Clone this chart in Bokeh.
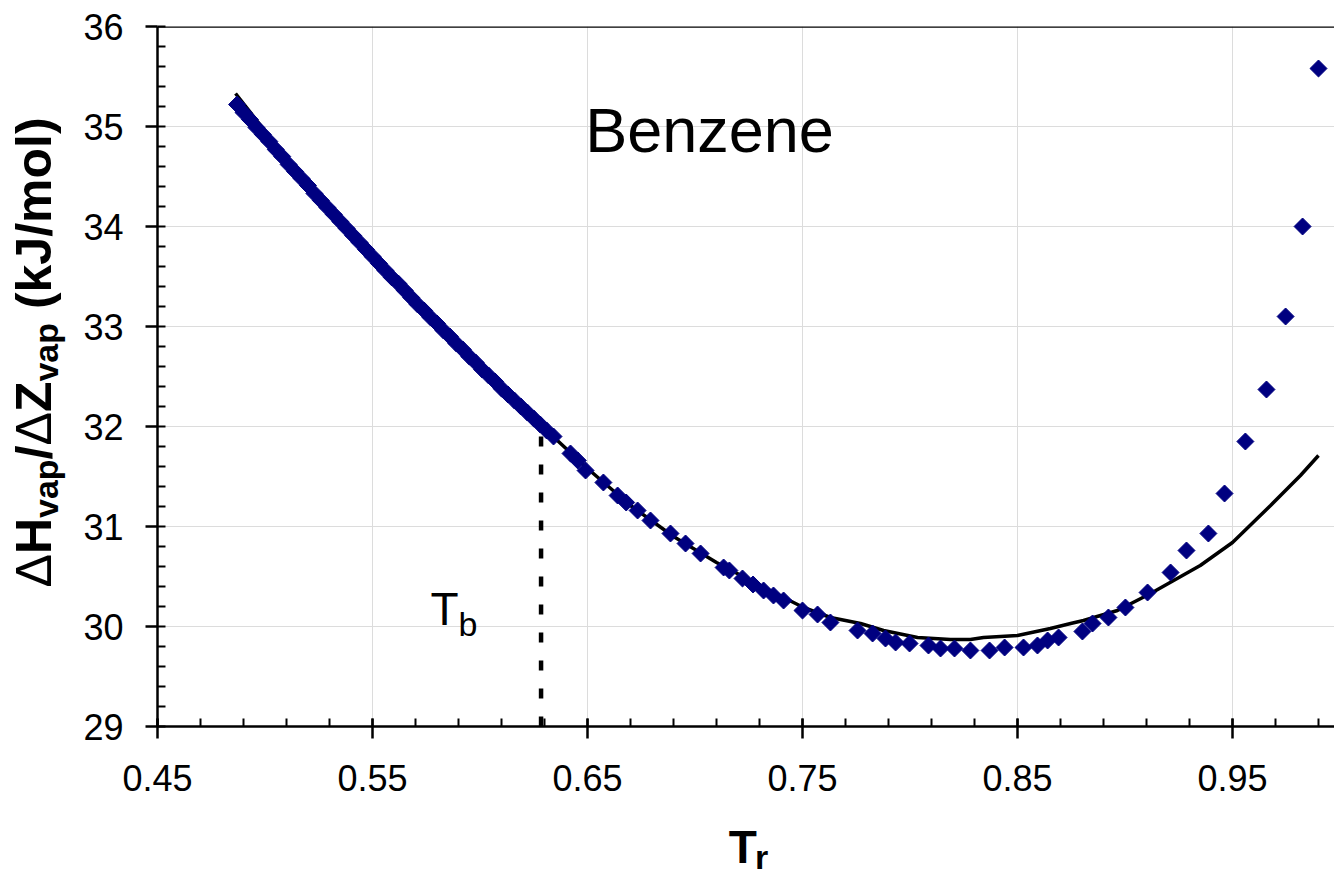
import numpy as np
from bokeh.plotting import figure
from bokeh.layouts import row, column
from bokeh.models import Label, Span, FixedTicker, PrintfTickFormatter, Range1d
from bokeh.embed import file_html
from bokeh.resources import INLINE

# ---------------- data ----------------
tr_data = [0.487, 0.490, 0.493, 0.496, 0.499, 0.502, 0.505, 0.508, 0.511, 0.514,
           0.517, 0.520, 0.523, 0.526, 0.529, 0.532, 0.535, 0.538, 0.541, 0.544,
           0.547, 0.550, 0.553, 0.556, 0.559, 0.562, 0.565, 0.568, 0.571, 0.574,
           0.577, 0.580, 0.583, 0.586, 0.589, 0.592, 0.595, 0.598, 0.601, 0.604,
           0.607, 0.610, 0.613, 0.616, 0.619, 0.622, 0.625, 0.628, 0.631,
           0.6342, 0.6421, 0.6455, 0.6491, 0.6574, 0.664, 0.668, 0.6733, 0.6793,
           0.6886, 0.6956, 0.7026, 0.7133, 0.7160, 0.7221, 0.7270, 0.7319, 0.7365,
           0.7412, 0.7500, 0.7570, 0.7630, 0.7756, 0.7826, 0.7886, 0.7933, 0.7998,
           0.8086, 0.8142, 0.8207, 0.8281, 0.8370, 0.8440, 0.8528, 0.8593, 0.8640,
           0.8691, 0.8802, 0.8849, 0.8923, 0.9002, 0.9105, 0.9212, 0.9286, 0.9388,
           0.9463, 0.9560, 0.9658, 0.9747, 0.9826, 0.9900]
dz_data = [35.22, 35.14, 35.07, 34.99, 34.92, 34.85, 34.77, 34.70, 34.62, 34.55,
           34.48, 34.41, 34.33, 34.26, 34.19, 34.12, 34.05, 33.98, 33.91, 33.84,
           33.77, 33.70, 33.63, 33.56, 33.49, 33.43, 33.36, 33.29, 33.22, 33.16,
           33.09, 33.03, 32.96, 32.90, 32.83, 32.77, 32.70, 32.64, 32.57, 32.51,
           32.45, 32.38, 32.32, 32.26, 32.20, 32.14, 32.08, 32.02, 31.96,
           31.90, 31.73, 31.66, 31.56, 31.44, 31.31, 31.24, 31.16, 31.06,
           30.93, 30.83, 30.73, 30.59, 30.56, 30.48, 30.42, 30.36, 30.31,
           30.26, 30.16, 30.12, 30.04, 29.96, 29.93, 29.88, 29.84, 29.83,
           29.81, 29.78, 29.78, 29.76, 29.76, 29.79, 29.79, 29.81, 29.86,
           29.89, 29.95, 30.03, 30.09, 30.19, 30.34, 30.54, 30.76, 30.93,
           31.33, 31.85, 32.37, 33.10, 34.00, 35.58]

tr_model = [0.4863, 0.4965, 0.510, 0.530, 0.550, 0.570, 0.590, 0.610, 0.630, 0.650,
            0.670, 0.690, 0.710, 0.7258, 0.7412, 0.7505, 0.763, 0.777, 0.7877, 0.8035,
            0.8188, 0.8281, 0.8342, 0.850, 0.8653, 0.8747, 0.8807, 0.8965, 0.9119,
            0.935, 0.950, 0.9677, 0.9816, 0.990]
dz_model = [35.33, 35.05, 34.69, 34.19, 33.72, 33.25, 32.81, 32.39, 31.98, 31.58,
            31.21, 30.90, 30.64, 30.46, 30.29, 30.19, 30.09, 30.03, 29.96, 29.89,
            29.87, 29.87, 29.89, 29.91, 29.98, 30.03, 30.06, 30.16, 30.33,
            30.61, 30.84, 31.21, 31.51, 31.71]

tb_value = 0.6284          # reduced normal boiling point
tb_line = [29.0, 31.94]    # vertical marker from axis up to the curve

x_ticks = [0.45, 0.55, 0.65, 0.75, 0.85, 0.95]
y_ticks = [29, 30, 31, 32, 33, 34, 35, 36]
title_text = "Benzene"

# ---------------- layout (page pixels) ----------------
PAGE_W, PAGE_H = 1334, 876
LEFT_W = 75            # strip holding the rotated y label
BOTTOM_H = 56          # strip holding the x label
FRAME_L, FRAME_T, FRAME_B = 157, 26, 726
MAIN_W = PAGE_W - LEFT_W
MAIN_H = PAGE_H - BOTTOM_H
BL = 0.43              # baseline correction (em) for Label placement
FONT = "Liberation Sans"

def px2t(px):
    return 0.45 + (px - FRAME_L) / 2150.0

def py2v(py):
    return 36 - (py - FRAME_T) / 100.0

# ---------------- main plot ----------------
p = figure(width=MAIN_W, height=MAIN_H, output_backend="svg", toolbar_location=None,
           x_range=Range1d(0.45, px2t(PAGE_W)), y_range=Range1d(29, 36),
           min_border_left=FRAME_L - LEFT_W, min_border_right=0,
           min_border_top=FRAME_T, min_border_bottom=MAIN_H - FRAME_B)
p.title.visible = False
p.outline_line_color = None
p.background_fill_color = "white"
p.border_fill_color = "white"

x_minor = [round(0.45 + 0.02 * i, 4) for i in range(0, 28)]
y_minor = [round(29 + 0.2 * i, 4) for i in range(0, 36)]
p.xaxis.ticker = FixedTicker(ticks=x_ticks, minor_ticks=x_minor)
p.yaxis.ticker = FixedTicker(ticks=y_ticks, minor_ticks=y_minor)
p.xaxis.formatter = PrintfTickFormatter(format="%.2f")
p.yaxis.formatter = PrintfTickFormatter(format="%d")

for ax in (p.xaxis, p.yaxis):
    ax.axis_line_color = "black"
    ax.axis_line_width = 2.5
    ax.major_tick_line_color = "black"
    ax.major_tick_line_width = 2.5
    ax.minor_tick_line_color = "black"
    ax.minor_tick_line_width = 2
    ax.major_tick_out = 12
    ax.minor_tick_in = 8
    ax.minor_tick_out = 0
    ax.major_label_text_font = FONT
    ax.major_label_text_font_size = "36px"
    ax.major_label_text_color = "black"
p.xaxis.major_tick_in = 8
p.yaxis.major_tick_in = 0
p.xaxis.major_label_standoff = 26
p.yaxis.major_label_standoff = 22

p.xgrid.grid_line_color = "#dcdcdc"
p.ygrid.grid_line_color = "#dcdcdc"
p.xgrid.grid_line_width = 1
p.ygrid.grid_line_width = 1

p.add_layout(Span(location=36, dimension="width", line_color="black", line_width=2.5))

p.line([tb_value, tb_value], tb_line, line_color="black", line_width=4.5, line_dash="10 18")
p.line(tr_model, dz_model, line_color="black", line_width=3.5)
p.scatter(tr_data, dz_data, marker="square", size=12, angle=np.pi / 4,
          fill_color="#000080", line_color="#000080", line_width=1)

def lab(fig_, x, y, text, fs, style="normal", **kw):
    fig_.add_layout(Label(x=x, y=y, text=text, text_font=FONT, text_font_size=f"{fs}px",
                          text_font_style=style, text_baseline="alphabetic",
                          text_color="black", **kw))

# title and Tb note (inside the frame)
lab(p, px2t(709), py2v(157 - BL * 63), title_text, 63, text_align="center")
lab(p, px2t(430), py2v(628 - BL * 46), "T", 46)
lab(p, px2t(430 + 0.611 * 46), py2v(638 - BL * 34), "b", 34)

# ---------------- left strip: rotated y label ----------------
fy = figure(width=LEFT_W, height=PAGE_H, output_backend="svg", toolbar_location=None,
            x_range=Range1d(0, LEFT_W), y_range=Range1d(PAGE_H, 0),
            x_axis_location=None, y_axis_location=None, min_border=0)
fy.title.visible = False
fy.grid.visible = False
fy.outline_line_color = None
fy.background_fill_color = "white"
fy.border_fill_color = "white"

MAIN, SUB = 50, 34
BASE_MAIN, BASE_SUB = 55, 60
pieces = [
    ("\u0394", MAIN, "normal", 0.668, BASE_MAIN),
    ("H", MAIN, "bold", 0.722, BASE_MAIN),
    ("vap", SUB, "bold", 1.723, BASE_SUB),
    ("/", MAIN, "bold", 0.278, BASE_MAIN),
    ("\u0394", MAIN, "normal", 0.668, BASE_MAIN),
    ("Z", MAIN, "bold", 0.611, BASE_MAIN),
    ("vap", SUB, "bold", 1.723 + 0.278 * MAIN / SUB, BASE_SUB),   # includes the space
    ("(kJ/mol)", MAIN, "bold", 3.556, BASE_MAIN),
]
ypos = 587.0
for txt, fs, style, em, base in pieces:
    lab(fy, base - BL * fs, ypos, txt, fs, style, angle=np.pi / 2, text_align="left")
    ypos -= em * fs

# ---------------- bottom strip: x label ----------------
fx = figure(width=MAIN_W, height=BOTTOM_H, output_backend="svg", toolbar_location=None,
            x_range=Range1d(LEFT_W, PAGE_W), y_range=Range1d(PAGE_H, MAIN_H),
            x_axis_location=None, y_axis_location=None, min_border=0)
fx.title.visible = False
fx.grid.visible = False
fx.outline_line_color = None
fx.background_fill_color = "white"
fx.border_fill_color = "white"
TX = 728 - 42          # empirical shift so that the label lands at page x = 728
lab(fx, TX, 866 - BL * 46, "T", 46, "bold")
lab(fx, TX + 0.611 * 46, 871 - BL * 34, "r", 34, "bold")

layout = row(fy, column(p, fx, spacing=0), spacing=0)
open("out.html", "w").write(file_html(layout, INLINE))
